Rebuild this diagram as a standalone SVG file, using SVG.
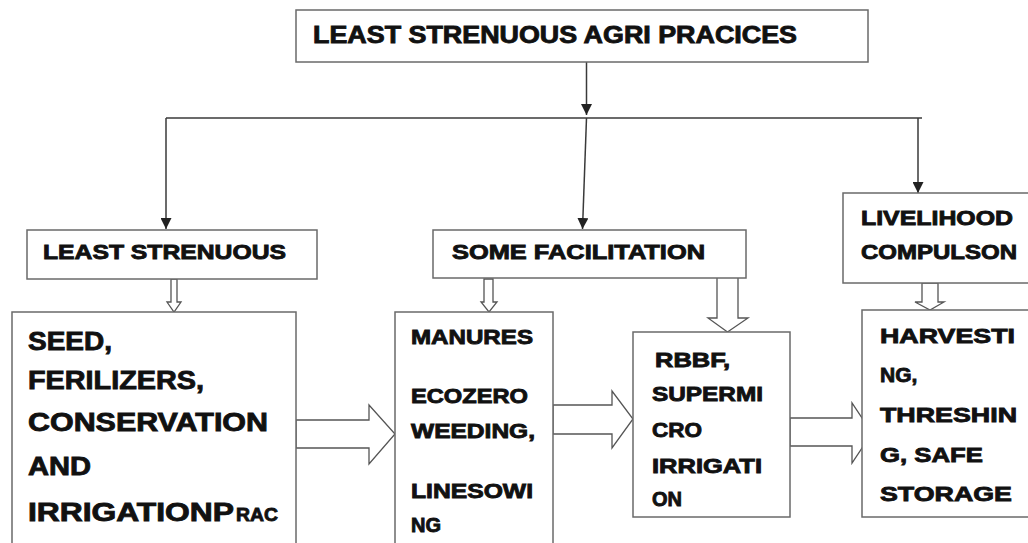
<svg xmlns="http://www.w3.org/2000/svg" width="1028" height="543" viewBox="0 0 1028 543">
<style>
.box{fill:#fff;stroke:#6a6a6a;stroke-width:1.5}
.ln{fill:none;stroke:#3a3a3a;stroke-width:1.5}
.ha{fill:#fff;stroke:#555;stroke-width:1.3;stroke-linejoin:miter}
text{font-family:"Liberation Sans",Arial,sans-serif;font-weight:bold;fill:#111;stroke:#111;stroke-width:0.85}
.s22{font-size:23px}
.s25{font-size:25px}
.s20{font-size:20px}
.s21{font-size:21px}
</style>
<defs>
<marker id="ah" markerUnits="userSpaceOnUse" markerWidth="11" markerHeight="11" viewBox="0 0 10 10" refX="10" refY="5" orient="auto">
<path d="M0,0 L10,5 L0,10 z" fill="#222"/>
</marker>
</defs>

<g id="connectors">
<line class="ln" x1="586.5" y1="62" x2="586.5" y2="115" marker-end="url(#ah)"/>
<line class="ln" x1="166" y1="118" x2="922" y2="118"/>
<line class="ln" x1="166" y1="118" x2="166" y2="229" marker-end="url(#ah)"/>
<line class="ln" x1="586.5" y1="118" x2="582.5" y2="229" marker-end="url(#ah)"/>
<line class="ln" x1="918" y1="118" x2="918" y2="193" marker-end="url(#ah)"/>
<polygon class="ha" points="171,279 177,279 177,302 181,302 174,312 167,302 171,302"/>
<polygon class="ha" points="484,279 493,279 493,302 497,302 489,312 481,302 484,302"/>
<polygon class="ha" points="717,277 738,277 738,318 748,318 727.5,332 708,318 717,318"/>
<polygon class="ha" points="922,283 938,283 938,302 944,302 930,310 915,302 922,302"/>
<polygon class="ha" points="296,420 369,420 369,405 395,434 369,464 369,448 296,448"/>
<polygon class="ha" points="553,405 612,405 612,391 633,419 612,448 612,434 553,434"/>
<polygon class="ha" points="790,418 852,418 852,403 872,433 852,463 852,446 790,446"/>
</g>

<g id="top">
<rect class="box" x="296" y="10" width="572" height="52"/>
<text class="s22" x="313" y="43" textLength="484" lengthAdjust="spacingAndGlyphs">LEAST STRENUOUS AGRI PRACICES</text>
</g>

<g id="least">
<rect class="box" x="27" y="230" width="290" height="49"/>
<text class="s20" x="43" y="259" textLength="243" lengthAdjust="spacingAndGlyphs">LEAST STRENUOUS</text>
</g>

<g id="some">
<rect class="box" x="433" y="230" width="313" height="48"/>
<text class="s20" x="452" y="259" textLength="253" lengthAdjust="spacingAndGlyphs">SOME FACILITATION</text>
</g>

<g id="livelihood">
<rect class="box" x="843" y="193" width="200" height="90"/>
<text class="s20" x="861" y="225" textLength="152" lengthAdjust="spacingAndGlyphs">LIVELIHOOD</text>
<text class="s20" x="861" y="259" textLength="156" lengthAdjust="spacingAndGlyphs">COMPULSON</text>
</g>

<g id="seed">
<rect class="box" x="12" y="312" width="284" height="250"/>
<text class="s25" x="28" y="350" textLength="84" lengthAdjust="spacingAndGlyphs">SEED,</text>
<text class="s25" x="28" y="389" textLength="176" lengthAdjust="spacingAndGlyphs">FERILIZERS,</text>
<text class="s25" x="28" y="431" textLength="240" lengthAdjust="spacingAndGlyphs">CONSERVATION</text>
<text class="s25" x="28" y="475" textLength="63" lengthAdjust="spacingAndGlyphs">AND</text>
<text class="s25" x="28" y="521"><tspan textLength="206" lengthAdjust="spacingAndGlyphs">IRRIGATIONP</tspan><tspan x="236" font-size="19" textLength="42" lengthAdjust="spacingAndGlyphs">RAC</tspan></text>
</g>

<g id="manures">
<rect class="box" x="395" y="312" width="158" height="250"/>
<text class="s20" x="411" y="344" textLength="122" lengthAdjust="spacingAndGlyphs">MANURES</text>
<text class="s20" x="411" y="403" textLength="117" lengthAdjust="spacingAndGlyphs">ECOZERO</text>
<text class="s20" x="411" y="438" textLength="124" lengthAdjust="spacingAndGlyphs">WEEDING,</text>
<text class="s20" x="411" y="498" textLength="122" lengthAdjust="spacingAndGlyphs">LINESOWI</text>
<text class="s20" x="411" y="532">NG</text>
</g>

<g id="rbbf">
<rect class="box" x="633" y="332" width="157" height="185"/>
<text class="s20" x="655" y="367" textLength="75" lengthAdjust="spacingAndGlyphs">RBBF,</text>
<text class="s20" x="652" y="401" textLength="111" lengthAdjust="spacingAndGlyphs">SUPERMI</text>
<text class="s20" x="652" y="437" textLength="50" lengthAdjust="spacingAndGlyphs">CRO</text>
<text class="s20" x="652" y="473" textLength="110" lengthAdjust="spacingAndGlyphs">IRRIGATI</text>
<text class="s20" x="652" y="506">ON</text>
</g>

<g id="harvest">
<rect class="box" x="862" y="310" width="180" height="207"/>
<text class="s21" x="880" y="343" textLength="135" lengthAdjust="spacingAndGlyphs">HARVESTI</text>
<text class="s21" x="880" y="382">NG,</text>
<text class="s21" x="880" y="422" textLength="137" lengthAdjust="spacingAndGlyphs">THRESHIN</text>
<text class="s21" x="880" y="462" textLength="103" lengthAdjust="spacingAndGlyphs">G, SAFE</text>
<text class="s21" x="880" y="501" textLength="132" lengthAdjust="spacingAndGlyphs">STORAGE</text>
</g>
</svg>
